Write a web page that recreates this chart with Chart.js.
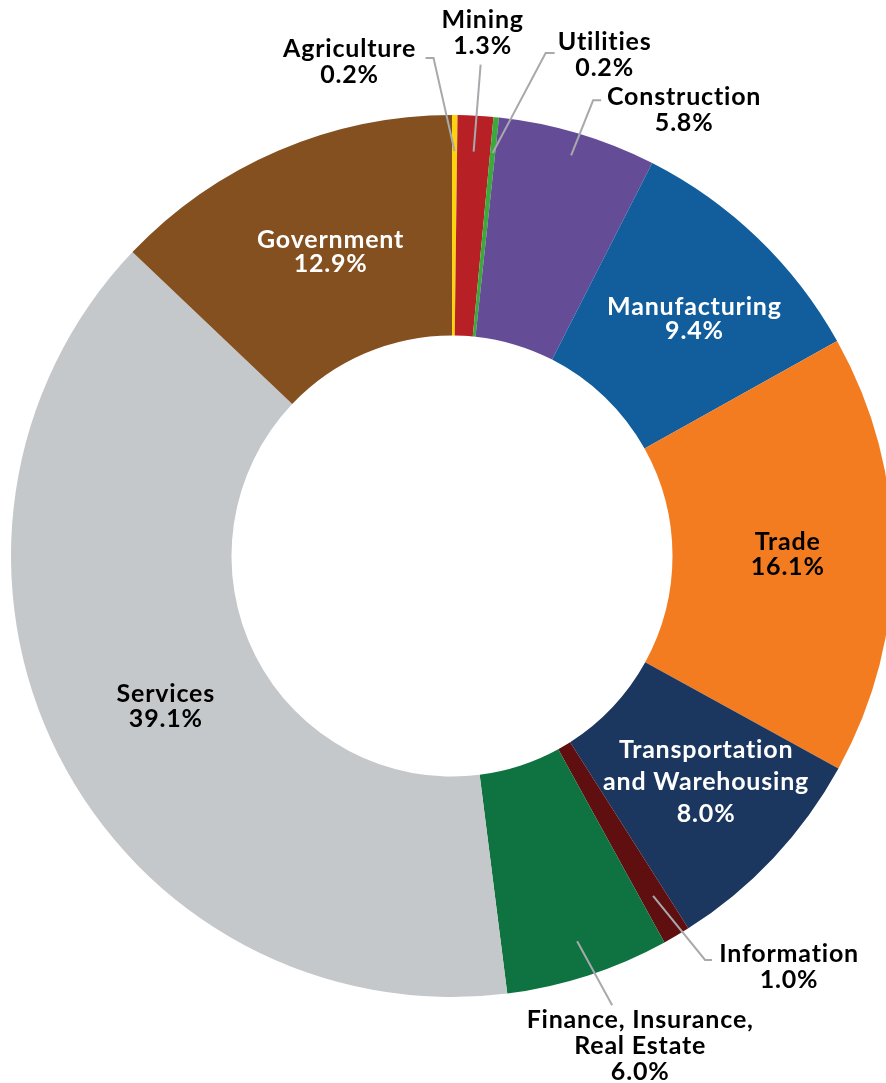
<!DOCTYPE html>
<html>
<head>
<meta charset="utf-8">
<script src="https://cdn.jsdelivr.net/npm/chart.js@4"></script>
<style>
  html, body { margin: 0; padding: 0; background: #fff; overflow: hidden; }
  #wrap { position: relative; width: 904px; height: 1083px; }
</style>
</head>
<body>
<div id="wrap"><canvas id="sectorChart"></canvas></div>
<script>
const sectors = ['Agriculture', 'Mining', 'Utilities', 'Construction', 'Manufacturing', 'Trade',
  'Transportation and Warehousing', 'Information', 'Finance, Insurance, Real Estate', 'Services', 'Government'];
const shares = [0.2, 1.3, 0.2, 5.8, 9.4, 16.1, 8.0, 1.0, 6.0, 39.1, 12.9];
const colors = ['#FDD20E', '#B72025', '#3BAA3A', '#654C96', '#125E9D', '#F47C20',
  '#1B365F', '#5F0F10', '#0E7340', '#C5C8CA', '#845020'];
const labelLines = [
  ['Agriculture'], ['Mining'], ['Utilities'], ['Construction'], ['Manufacturing'], ['Trade'],
  ['Transportation', 'and Warehousing'], ['Information'], ['Finance, Insurance,', 'Real Estate'], ['Services'], ['Government'],
];

// label placement: inside labels sit on the ring centroid; outside ones use a leader line
const placement = [
  { out: true, r: 405, elbow: [-21, -93], tail: -8, text: [-76, -10], color: '#000' },
  { out: true, r: 405, elbow: [7, -87], tail: 0, text: [2, -46], color: '#000' },
  { out: true, r: 405, elbow: [53, -100], tail: 9, text: [50, -12], color: '#000' },
  { out: true, r: 418, elbow: [22, -55], tail: 8, text: [83, -4], color: '#000' },
  { shift: [13, 0], lh: 24, color: '#fff' },
  { shift: [5, -1], lh: 25, color: '#000' },
  { shift: [13, -1], lh: 32, color: '#fff' },
  { out: true, r: 395, elbow: [52, 64], tail: 7, text: [77, -7], color: '#000' },
  { out: true, r: 405, elbow: [35, 64], tail: 0, text: [28, 14], color: '#000' },
  { shift: [9, 0], lh: 25, color: '#000' },
  { shift: [9, -1], lh: 24, color: '#fff' },
];

const FONT = 'bold 25px Lato';
const CAP = 9; // half cap height, to centre lines on their caps

const sectorLabels = {
  id: 'sectorLabels',
  afterDatasetsDraw(chart) {
    const { ctx } = chart;
    const arcs = chart.getDatasetMeta(0).data;
    ctx.save();
    ctx.font = FONT;
    ctx.letterSpacing = '0.8px'; // also stops the "ti" ligature
    ctx.textAlign = 'center';
    ctx.textBaseline = 'alphabetic';
    arcs.forEach((arc, i) => {
      const p = placement[i];
      const mid = (arc.startAngle + arc.endAngle) / 2;
      const lines = labelLines[i].concat(shares[i].toFixed(1) + '%');
      let cx, cy, lh = p.lh || 26;
      if (p.out) {
        const sx = arc.x + Math.cos(mid) * p.r;
        const sy = arc.y + Math.sin(mid) * p.r;
        const ex = sx + p.elbow[0], ey = sy + p.elbow[1];
        const tx = ex + p.tail;
        ctx.strokeStyle = '#A7A9AC';
        ctx.lineWidth = 2;
        ctx.beginPath();
        ctx.moveTo(sx, sy);
        ctx.lineTo(ex, ey);
        if (p.tail) ctx.lineTo(tx, ey);
        ctx.stroke();
        cx = tx + p.text[0];
        cy = ey + p.text[1];
        ctx.fillStyle = p.color;
        lines.forEach((t, k) => ctx.fillText(t, cx, cy + k * lh + CAP));
      } else {
        const rm = (arc.innerRadius + arc.outerRadius) / 2;
        cx = arc.x + Math.cos(mid) * rm + p.shift[0];
        cy = arc.y + Math.sin(mid) * rm + p.shift[1];
        const top = cy - (lines.length - 1) * lh / 2;
        ctx.fillStyle = p.color;
        lines.forEach((t, k) => ctx.fillText(t, cx, top + k * lh + CAP));
      }
    });
    ctx.restore();
  }
};

new Chart(document.getElementById('sectorChart'), {
  type: 'doughnut',
  data: {
    labels: sectors,
    datasets: [{ data: shares, backgroundColor: colors, borderWidth: 0 }],
  },
  options: {
    responsive: true,
    maintainAspectRatio: false,
    animation: false,
    cutout: '50%',
    rotation: 0,
    layout: { padding: { left: 11, right: 11, top: 115, bottom: 86 } },
    plugins: { legend: { display: false }, tooltip: { enabled: false } },
  },
  plugins: [sectorLabels],
});
</script>
</body>
</html>
